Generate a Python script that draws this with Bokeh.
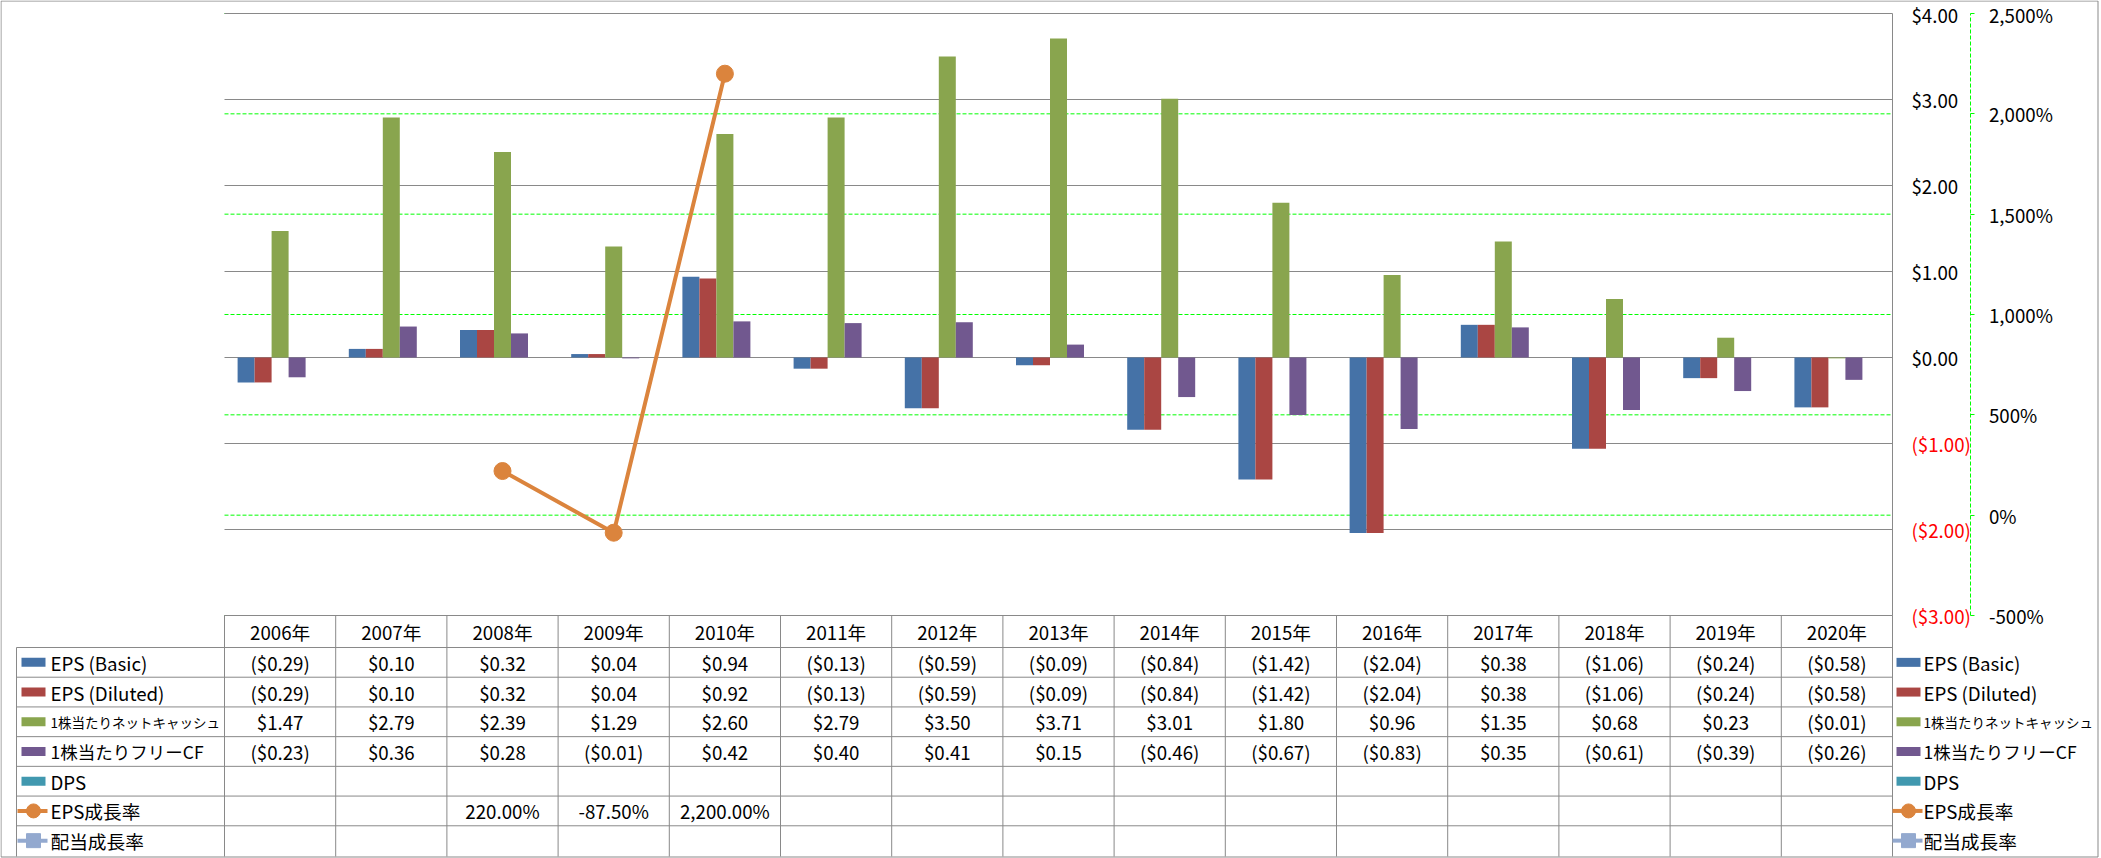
import numpy as np
from bokeh.plotting import figure
from bokeh.models import (Range1d, LinearAxis, FixedTicker, CustomJSTickFormatter,
                          ColumnDataSource)
from bokeh.core.properties import value
from bokeh.embed import file_html
from bokeh.resources import INLINE

# ---------------- data ----------------
years = ["2006年", "2007年", "2008年", "2009年", "2010年", "2011年", "2012年", "2013年",
         "2014年", "2015年", "2016年", "2017年", "2018年", "2019年", "2020年"]
eps_basic = [-0.29, 0.10, 0.32, 0.04, 0.94, -0.13, -0.59, -0.09, -0.84, -1.42, -2.04, 0.38, -1.06, -0.24, -0.58]
eps_diluted = [-0.29, 0.10, 0.32, 0.04, 0.92, -0.13, -0.59, -0.09, -0.84, -1.42, -2.04, 0.38, -1.06, -0.24, -0.58]
net_cash_ps = [1.47, 2.79, 2.39, 1.29, 2.60, 2.79, 3.50, 3.71, 3.01, 1.80, 0.96, 1.35, 0.68, 0.23, -0.01]
free_cf_ps = [-0.23, 0.36, 0.28, -0.01, 0.42, 0.40, 0.41, 0.15, -0.46, -0.67, -0.83, 0.35, -0.61, -0.39, -0.26]
dps = [None] * 15
eps_growth = [None, None, 220.0, -87.5, 2200.0, None, None, None, None, None, None, None, None, None, None]
div_growth = [None] * 15
series_names = ["EPS (Basic)", "EPS (Diluted)", "1株当たりネットキャッシュ", "1株当たりフリーCF",
                "DPS", "EPS成長率", "配当成長率"]
usd_ticks = [-3, -2, -1, 0, 1, 2, 3, 4]
pct_ticks = [-500, 0, 500, 1000, 1500, 2000, 2500]

# ---------------- layout / style ----------------
W, H = 2101, 858
PL, PR, PT, PB = 224, 1892, 13, 615
N = len(years)
FONT = value("Noto Sans CJK JP")
FS = "18.7px"
GRAY = "#898989"
GREEN = "#00FF00"
bar_colors = ["#4572A7", "#AA4643", "#89A54E", "#71588F", "#4198AF"]
ORANGE = "#DB843D"
LBLUE = "#93A9CF"

cat_w = (PR - PL) / N
usd_min, usd_max = min(usd_ticks), max(usd_ticks)
pct_min, pct_max = min(pct_ticks), max(pct_ticks)
upx = (PB - PT) / (usd_max - usd_min)
ppx = (PB - PT) / (pct_max - pct_min)

p = figure(width=W, height=H, output_backend="svg", toolbar_location=None,
           x_axis_type=None, y_axis_type=None, min_border=0,
           x_range=Range1d(0, W), y_range=Range1d(H, 0),
           outline_line_color=None, background_fill_color="white",
           border_fill_color="white")
p.extra_x_ranges = {"cat": Range1d(-PL / cat_w, N + (W - PR) / cat_w)}
p.extra_y_ranges = {
    "usd": Range1d(usd_min - (H - PB) / upx, usd_max + PT / upx),
    "pct": Range1d(pct_min - (H - PB) / ppx, pct_max + PT / ppx),
}

# outer border
p.quad(left=[0.5], right=[W - 3.5], top=[0.5], bottom=[H - 1.5],
       fill_color=None, line_color=GRAY, line_width=1)

# green dashed gridlines (percent)
p.segment(x0=[0] * len(pct_ticks), x1=[N] * len(pct_ticks), y0=pct_ticks, y1=pct_ticks,
          x_range_name="cat", y_range_name="pct", line_color=GREEN, line_width=1,
          line_dash="4 2")
# gray gridlines (dollar)
p.segment(x0=[0] * len(usd_ticks), x1=[N] * len(usd_ticks), y0=usd_ticks, y1=usd_ticks,
          x_range_name="cat", y_range_name="usd", line_color=GRAY, line_width=1)

# bars
bw = 17 / cat_w
idx = np.arange(N) + 0.5
for k, vals in enumerate([eps_basic, eps_diluted, net_cash_ps, free_cf_ps, dps]):
    v = [np.nan if x is None else x for x in vals]
    src = ColumnDataSource(dict(x=idx + (k - 2) * bw, top=v))
    p.vbar(x="x", top="top", bottom=0, width=bw, source=src, x_range_name="cat",
           y_range_name="usd", fill_color=bar_colors[k], line_color=None)

# EPS growth line
g = [np.nan if x is None else x for x in eps_growth]
p.line(idx, g, x_range_name="cat", y_range_name="pct", line_color=ORANGE, line_width=4)
p.scatter(idx, g, x_range_name="cat", y_range_name="pct", size=17, marker="circle",
          fill_color=ORANGE, line_color=ORANGE)

# axes
ax_pos = LinearAxis(y_range_name="usd", x_range_name="cat", fixed_location=N,
                    ticker=FixedTicker(ticks=[t for t in usd_ticks if t >= 0]),
                    formatter=CustomJSTickFormatter(code="return '$' + tick.toFixed(2);"),
                    bounds=(usd_min, usd_max))
ax_neg = LinearAxis(y_range_name="usd", x_range_name="cat", fixed_location=N,
                    ticker=FixedTicker(ticks=[t for t in usd_ticks if t < 0]),
                    formatter=CustomJSTickFormatter(code="return '($' + Math.abs(tick).toFixed(2) + ')';"),
                    bounds=(usd_min, usd_max))
for ax, col, line in [(ax_pos, "black", GRAY), (ax_neg, "#FF0000", None)]:
    ax.axis_line_color = line
    ax.major_tick_in = 0
    ax.major_tick_out = 0
    ax.minor_tick_line_color = None
    ax.major_tick_line_color = None
    ax.major_label_standoff = 19
    ax.major_label_text_color = col
    ax.major_label_text_font = "Noto Sans CJK JP"
    ax.major_label_text_font_size = FS
    p.add_layout(ax, "right")

ax_pct = LinearAxis(y_range_name="pct", fixed_location=1969.5,
                    ticker=FixedTicker(ticks=pct_ticks),
                    formatter=CustomJSTickFormatter(code="return tick.toLocaleString('en-US') + '%';"),
                    bounds=(pct_min, pct_max))
ax_pct.axis_line_color = GREEN
ax_pct.axis_line_dash = "4 2"
ax_pct.major_tick_line_color = GREEN
ax_pct.major_tick_in = 0
ax_pct.major_tick_out = 4
ax_pct.minor_tick_line_color = None
ax_pct.major_label_standoff = 15
ax_pct.major_label_text_color = "black"
ax_pct.major_label_text_font = "Noto Sans CJK JP"
ax_pct.major_label_text_font_size = FS
p.add_layout(ax_pct, "right")

# ---------------- data table ----------------
row_h = (855 - 647) / 7
row_tops = [647 + row_h * i for i in range(8)]
row_c = [(row_tops[i] + row_tops[i + 1]) / 2 for i in range(7)]

# lines
p.segment(x0=[0], x1=[N], y0=[PB], y1=[PB], x_range_name="cat", line_color=GRAY)  # header top
p.segment(x0=[16] * 7, x1=[PR] * 7, y0=row_tops[:7], y1=row_tops[:7], line_color=GRAY)
p.segment(x0=list(range(N + 1)), x1=list(range(N + 1)), y0=[PB] * (N + 1), y1=[H - 2] * (N + 1),
          x_range_name="cat", line_color=GRAY)
p.segment(x0=[16], x1=[16], y0=[647], y1=[H - 2], line_color=GRAY)


def fm_usd(v):
    if v is None:
        return ""
    return f"${v:.2f}" if v >= 0 else f"(${-v:.2f})"


def fm_pct(v):
    return "" if v is None else f"{v:,.2f}%"


p.text(x=list(idx), y=[(PB + 647) / 2] * N, text=years, x_range_name="cat",
       text_align="center", text_baseline="middle", text_font=FONT, text_font_size=FS,
       text_color="black")
rows = [eps_basic, eps_diluted, net_cash_ps, free_cf_ps, dps, eps_growth, div_growth]
for r, vals in enumerate(rows):
    txt = [fm_pct(v) for v in vals] if r >= 5 else [fm_usd(v) for v in vals]
    p.text(x=list(idx), y=[row_c[r]] * N, text=txt, x_range_name="cat",
           text_align="center", text_baseline="middle", text_font=FONT, text_font_size=FS,
           text_color="black")

# legends (left in table, right beside the table)
label_sizes = [FS, FS, "13.5px", "17.5px", FS, FS, FS]
for cx, tx in [(33, 50), (1908, 1923)]:
    p.rect(x=[cx] * 5, y=row_c[:5], width=24, height=9, fill_color=bar_colors,
           line_color=None)
    p.segment(x0=[cx - 16], x1=[cx + 14], y0=[row_c[5]], y1=[row_c[5]], line_color=ORANGE,
              line_width=4)
    p.scatter(x=[cx], y=[row_c[5]], size=14, marker="circle", fill_color=ORANGE,
              line_color=ORANGE)
    p.segment(x0=[cx - 16], x1=[cx + 14], y0=[row_c[6]], y1=[row_c[6]], line_color=LBLUE,
              line_width=4)
    p.scatter(x=[cx], y=[row_c[6]], size=14, marker="square", fill_color=LBLUE,
              line_color=LBLUE)
    src = ColumnDataSource(dict(x=[tx] * 7, y=row_c, t=series_names, fs=label_sizes))
    p.text(x="x", y="y", text="t", source=src, text_align="left", text_baseline="middle",
           text_font=FONT, text_font_size="fs", text_color="black")

open("out.html", "w").write(file_html(p, INLINE))
